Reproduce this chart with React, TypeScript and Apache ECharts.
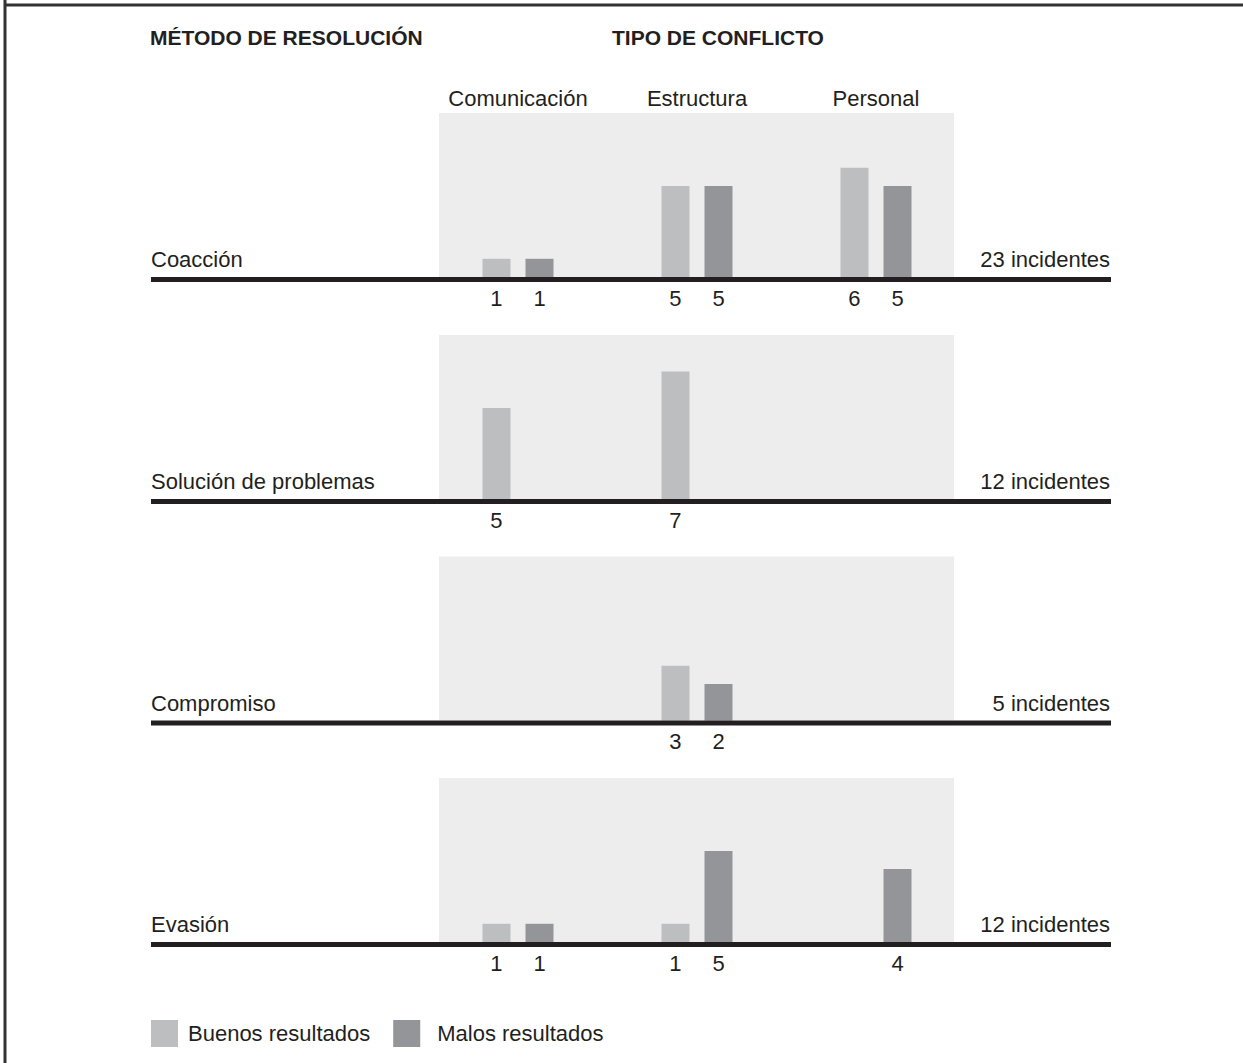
import React, { useEffect, useRef } from 'react';
import * as echarts from 'echarts';

const categories = ['Comunicación', 'Estructura', 'Personal'];
const methods = ['Coacción', 'Solución de problemas', 'Compromiso', 'Evasión'];
const seriesNames = ['Buenos resultados', 'Malos resultados'];
// rows = methods, columns = categories
const goodResults: (number | null)[][] = [
  [1, 5, 6],
  [5, 7, null],
  [null, 3, null],
  [1, 1, null],
];
const badResults: (number | null)[][] = [
  [1, 5, 5],
  [null, null, null],
  [null, 2, null],
  [1, 5, 4],
];
const headingLeft = 'MÉTODO DE RESOLUCIÓN';
const headingRight = 'TIPO DE CONFLICTO';
const totalSuffix = 'incidentes';

const TEXT = '#231f20';
const FONT = '"Liberation Sans", Arial, Helvetica, sans-serif';
const GOOD = '#bcbec0';
const BAD = '#939598';
const PANEL = '#ededed';
const FS = 22;

export default function App() {
  const ref = useRef<HTMLDivElement>(null);
  useEffect(() => {
    document.body.style.margin = '0';
    const chart = echarts.init(ref.current!, null, { renderer: 'svg' });
    const panelTops = [113, 335, 556.5, 778];
    const panelH = 164;

    const grids = panelTops.map((t) => ({ left: 428.5, width: 537, top: t, height: panelH }));
    const xAxes = panelTops.map((_, i) => ({
      type: 'category',
      gridIndex: i,
      data: categories,
      position: 'top',
      axisLine: { show: false },
      axisTick: { show: false },
      splitLine: { show: false },
      axisLabel: { show: i === 0, interval: 0, hideOverlap: false, margin: 4, fontSize: FS, color: TEXT, fontFamily: FONT },
    }));
    const yAxes = panelTops.map((_, i) => ({
      type: 'value',
      gridIndex: i,
      min: 0,
      max: 9,
      show: false,
    }));

    const labelCfg = {
      show: true,
      position: 'bottom',
      distance: 10,
      fontSize: FS,
      color: TEXT,
      fontFamily: FONT,
    };
    const series: any[] = [];
    methods.forEach((_, i) => {
      [goodResults[i], badResults[i]].forEach((vals, k) => {
        series.push({
          type: 'bar',
          name: seriesNames[k],
          xAxisIndex: i,
          yAxisIndex: i,
          data: vals,
          barWidth: 28,
          barGap: '53.6%',
          itemStyle: { color: k === 0 ? GOOD : BAD },
          label: labelCfg,
          z: 3,
        });
      });
    });

    const graphics: any[] = [];
    // frame
    graphics.push({ type: 'line', shape: { x1: 5, y1: 0, x2: 5, y2: 1063 }, style: { stroke: '#333', lineWidth: 3 }, z: 10 });
    graphics.push({ type: 'line', shape: { x1: 4, y1: 5, x2: 1243, y2: 5 }, style: { stroke: '#333', lineWidth: 3 }, z: 10 });
    graphics.push({ type: 'text', x: 150, y: 37, style: { text: headingLeft, font: `bold 21px ${FONT}`, fill: TEXT, textVerticalAlign: 'middle' } });
    graphics.push({ type: 'text', x: 612, y: 37, style: { text: headingRight, font: `bold 21px ${FONT}`, fill: TEXT, textVerticalAlign: 'middle' } });

    methods.forEach((m, i) => {
      const t = panelTops[i];
      const lineY = t + panelH + 2.5;
      const total = [...goodResults[i], ...badResults[i]].reduce((a: number, b) => a + (b || 0), 0);
      graphics.push({ type: 'rect', shape: { x: 439, y: t, width: 515, height: panelH }, style: { fill: PANEL }, z: -1 });
      graphics.push({ type: 'line', shape: { x1: 151, y1: lineY, x2: 1111, y2: lineY }, style: { stroke: TEXT, lineWidth: 5 }, z: 10 });
      graphics.push({ type: 'text', x: 151, y: lineY - 20, style: { text: m, font: `${FS}px ${FONT}`, fill: TEXT, textVerticalAlign: 'middle' } });
      graphics.push({ type: 'text', x: 1110, y: lineY - 20, style: { text: `${total} ${totalSuffix}`, font: `${FS}px ${FONT}`, fill: TEXT, textAlign: 'right', textVerticalAlign: 'middle' } });
    });

    chart.setOption({
      animation: false,
      backgroundColor: '#ffffff',
      grid: grids,
      xAxis: xAxes,
      yAxis: yAxes,
      series,
      legend: {
        left: 146,
        top: 1015,
        icon: 'rect',
        itemWidth: 27,
        itemHeight: 27,
        itemGap: 23,
        data: [
          { name: seriesNames[0], textStyle: { padding: [0, 0, 0, 5] } },
          { name: seriesNames[1], textStyle: { padding: [0, 0, 0, 12] } },
        ],
        selectedMode: false,
        textStyle: { fontSize: FS, color: TEXT, fontFamily: FONT },
      },
      graphic: graphics,
    });
    return () => chart.dispose();
  }, []);
  return <div ref={ref} style={{ position: 'absolute', left: 0, top: 0, width: 1243, height: 1063 }} />;
}
